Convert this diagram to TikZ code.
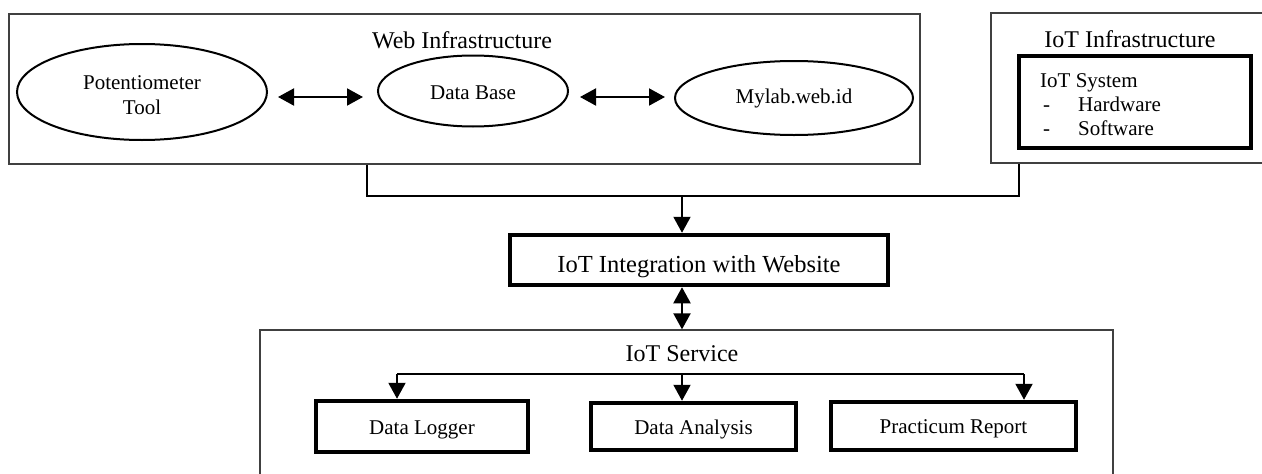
\documentclass[tikz,border=0pt]{standalone}
\usepackage{fontspec}
\setmainfont{Liberation Serif}
\usetikzlibrary{arrows.meta,shapes.geometric}
\begin{document}
\begin{tikzpicture}[x=1pt,y=-1pt,
  container/.style={draw=black!75,line width=1.3pt,minimum width=#1,inner sep=0pt},
  oval/.style={ellipse,draw,line width=2pt,inner sep=0pt},
  thickbox/.style={draw,line width=4.5pt,inner sep=0pt,text height=15pt,text depth=0pt,font=\fontsize{21}{24}\selectfont},
  title/.style={font=\fontsize{24}{26}\selectfont,inner sep=0pt},
  txt/.style={font=\fontsize{21}{24}\selectfont,inner sep=0pt},
  link/.style={line width=2pt},
  arr/.style={line width=2pt,-{Triangle[length=16pt,width=17pt]}},
  darr/.style={line width=2pt,{Triangle[length=16pt,width=17pt]}-{Triangle[length=16pt,width=17pt]}}]
\clip (0,0) rectangle (1262,474);
% containers
\node[container=911pt,minimum height=150pt] (web) at (464.5,89) {};
\node[container=320pt,minimum height=150pt] (iotinf) at (1151,88) {};
\node[container=853pt,minimum height=170pt] (service) at (686.5,415) {};
% titles
\node[title] (webt) at (462,40) {Web Infrastructure};
\node[title] (iott) at (1130,39) {IoT Infrastructure};
\node[title] (servt) at (682,354) {IoT Service};
% ellipses
\node[oval,minimum width=250pt,minimum height=96pt] (pot) at (142,92) {};
\node[txt,align=center,font=\fontsize{21}{24.5}\selectfont] (pott) at (142,95) {Potentiometer\\Tool};
\node[oval,minimum width=190pt,minimum height=71pt] (db) at (473,91) {};
\node[txt] (dbt) at (473,92.5) {Data Base};
\node[oval,minimum width=238pt,minimum height=74pt] (mylab) at (794,98) {};
\node[txt] (mylabt) at (794,98.5) {Mylab.web.id};
\coordinate (a1) at (278,97);
\coordinate (a2) at (363,97);
\coordinate (b1) at (580,97);
\coordinate (b2) at (665,97);
\draw[darr] (a1) -- (a2);
\draw[darr] (b1) -- (b2);
% IoT system
\node[thickbox,minimum width=232pt,minimum height=92pt] (sys) at (1135,102) {};
\node[txt,anchor=base west] (syst) at (1040,87) {IoT System};
\node[txt,anchor=base west] (d1) at (1043,111) {-};
\node[txt,anchor=base west] (hw) at (1078,111) {Hardware};
\node[txt,anchor=base west] (d2) at (1043,135) {-};
\node[txt,anchor=base west] (sw) at (1078,135) {Software};
% integration
\node[thickbox,minimum width=378pt,minimum height=50pt,text height=25pt,font=\fontsize{24.5}{26}\selectfont] (integ) at (699,260) {IoT Integration with Website};
% services
\node[thickbox,minimum width=212pt,minimum height=51pt] (logger) at (422,426.5) {Data Logger};
\node[thickbox,minimum width=205pt,minimum height=47pt] (analysis) at (693.5,426.5) {Data Analysis};
\node[thickbox,minimum width=245pt,minimum height=48pt] (report) at (953.5,426) {Practicum Report};
% connectors
\coordinate (wx) at (367,0);
\coordinate (ix) at (1019,0);
\coordinate (mx) at (682,0);
\coordinate (jy) at (0,196);
\coordinate (fy) at (0,374);
\coordinate (lx) at (397,0);
\coordinate (rx) at (1024,0);
\draw[link] (web.south -| wx) -- (wx |- jy) -- (ix |- jy) -- (iotinf.south -| ix);
\draw[arr] (mx |- jy) -- (integ.north -| mx);
\draw[darr] (integ.south -| mx) -- (service.north -| mx);
\draw[link] (lx |- fy) -- (rx |- fy);
\draw[arr] (lx |- fy) -- (logger.north -| lx);
\draw[arr] (mx |- fy) -- (analysis.north -| mx);
\draw[arr] (rx |- fy) -- (report.north -| rx);
\end{tikzpicture}
\end{document}
